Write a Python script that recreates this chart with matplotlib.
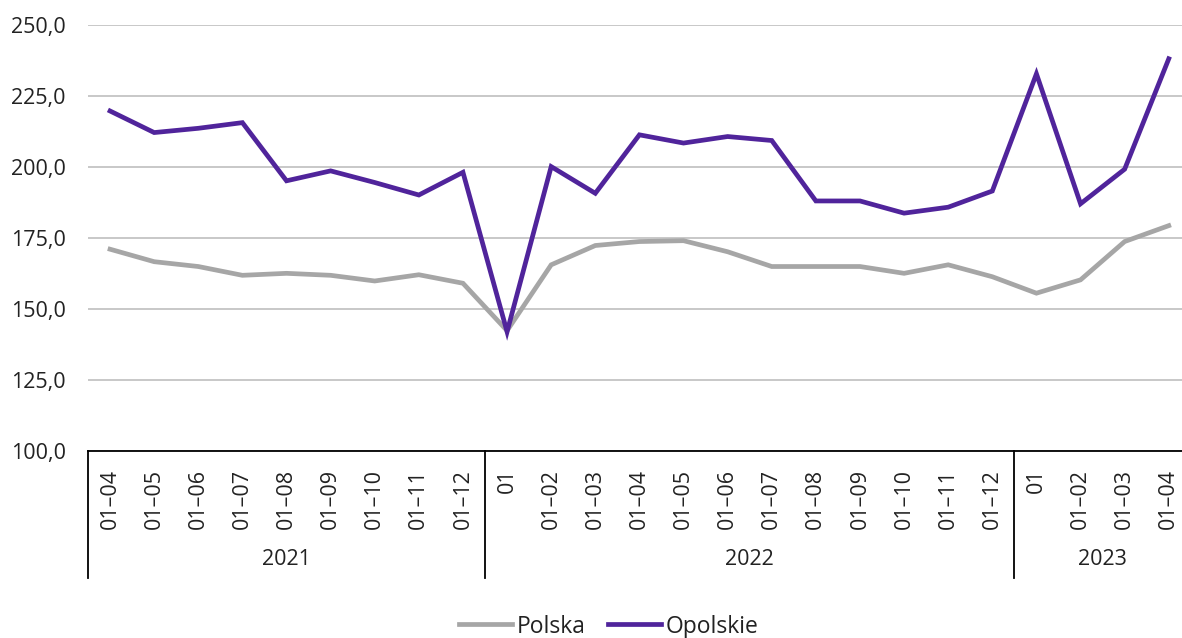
import matplotlib.pyplot as plt

plt.rcParams['font.family'] = ['Open Sans', 'DejaVu Sans']

# months (cumulative periods) per year
labels_2021 = ['01–04', '01–05', '01–06', '01–07', '01–08', '01–09', '01–10', '01–11', '01–12']
labels_2022 = ['01', '01–02', '01–03', '01–04', '01–05', '01–06', '01–07', '01–08', '01–09',
               '01–10', '01–11', '01–12']
labels_2023 = ['01', '01–02', '01–03', '01–04']
years = ['2021', '2022', '2023']

polska = [171.0, 166.6, 164.9, 161.8, 162.5, 161.8, 159.8, 162.0, 159.0,
          142.3, 165.5, 172.3, 173.7, 174.0, 170.1, 164.9, 164.9, 164.9, 162.5, 165.5, 161.3,
          155.5, 160.2, 173.7, 179.3]
opolskie = [219.7, 212.1, 213.6, 215.6, 195.1, 198.6, 194.5, 190.1, 198.1,
            141.9, 200.1, 190.7, 211.3, 208.4, 210.7, 209.3, 188.0, 188.0, 183.7, 185.8, 191.5,
            232.8, 187.0, 199.2, 238.1]

tick_labels = labels_2021 + labels_2022 + labels_2023
x = list(range(len(tick_labels)))
txt = '#222222'

fig = plt.figure(figsize=(11.82, 6.38), dpi=100)
ax = fig.add_axes([88 / 1182, 187.3 / 638, (1182 - 88) / 1182, 425.7 / 638])

ax.plot(x, polska, color='#a6a6a6', lw=3.4, label='Polska', solid_joinstyle='miter')
ax.plot(x, opolskie, color='#50249b', lw=3.4, label='Opolskie', solid_joinstyle='miter')

ax.set_ylim(100, 250)
ax.set_xlim(-0.5, 24.3)
ax.set_yticks([100, 125, 150, 175, 200, 225, 250])
ax.set_yticklabels(['100,0', '125,0', '150,0', '175,0', '200,0', '225,0', '250,0'])
ax.set_xticks(x)
ax.set_xticklabels(tick_labels, rotation=90)
ax.tick_params(axis='both', length=0, labelsize=15.5, labelcolor=txt)
ax.tick_params(axis='y', pad=16)
ax.tick_params(axis='x', pad=13)

ax.grid(axis='y', color='#c4c4c4', lw=1.3)
ax.set_axisbelow(True)
for s in ['top', 'right', 'left']:
    ax.spines[s].set_visible(False)
ax.spines['bottom'].set_color('black')
ax.spines['bottom'].set_linewidth(1.3)

# group separators and year labels under the axis
trans = ax.get_xaxis_transform()
bounds = [-0.5, len(labels_2021) - 0.5, len(labels_2021) + len(labels_2022) - 0.5, len(x) - 0.5]
for b in bounds:
    ax.plot([b, b], [0, -0.298], color='black', lw=1.3, transform=trans, clip_on=False)
for i, yr in enumerate(years):
    ax.text((bounds[i] + bounds[i + 1]) / 2, -0.256, yr, transform=trans, ha='center', va='center',
            fontsize=15.5, color=txt)

fig.legend(loc='center', bbox_to_anchor=(0.515, 0.018), ncol=2, frameon=False, fontsize=16.5,
           handlelength=2.3, handletextpad=0.2, columnspacing=1.0, labelcolor=txt)

fig.savefig('out.png', dpi=100)
